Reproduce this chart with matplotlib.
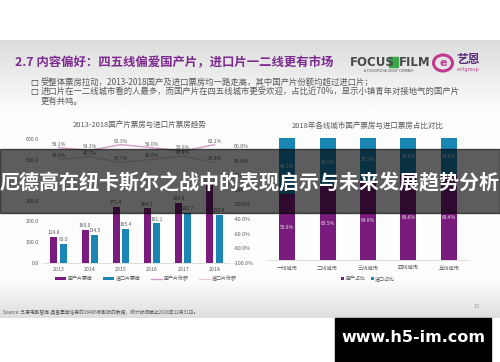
import numpy as np
import matplotlib
matplotlib.use('Agg')
import matplotlib.pyplot as plt
from matplotlib.patches import Rectangle, Ellipse

plt.rcParams['font.family'] = ['Noto Sans CJK SC', 'DejaVu Sans']

# data
years = ['2013', '2014', '2015', '2016', '2017', '2018']
box_cn = [124.8, 160.0, 271.4, 264.1, 289.9, 378.9]
box_im = [90.0, 134.5, 165.4, 191.1, 242.7, 230.8]
share_cn = [58.1, 54.3, 62.3, 58.0, 53.6, 62.2]
share_im = [41.9, 45.7, 37.7, 42.0, 46.4, 37.8]

cities = ['一线城市', '二线城市', '三线城市', '四线城市', '五线城市']
city_cn = [53.8, 60.5, 64.8, 69.6, 69.4]
city_im = [46.2, 39.5, 35.2, 30.4, 30.6]

PURPLE = '#7a1c7d'
BLUE = '#1a86b4'
PINK = '#d49cc4'
PINK2 = '#e6c6dc'
GREY = '#595959'

W, H = 500, 362
fig = plt.figure(figsize=(W / 100, H / 100), dpi=100)


def box(x0, y0, x1, y1):
    return [x0 / W, 1 - y1 / H, (x1 - x0) / W, (y1 - y0) / H]


def fxy(x, y):
    return x / W, 1 - y / H


# slide background
bg = fig.add_axes([0, 0, 1, 1], zorder=-5)
rows = np.arange(H)
shade = np.interp(rows, [0, 39, 40, 110, 280, 317, 318, H],
                  [1.0, 1.0, 0.86, 0.99, 0.99, 0.87, 1.0, 1.0])
img = np.repeat(shade[:, None], 2, axis=1)
bg.imshow(img, cmap='gray', vmin=0, vmax=1, aspect='auto',
          extent=[0, 1, 0, 1], interpolation='bilinear')
bg.axis('off')

# header
fig.text(*fxy(15, 63), '2.7 内容偏好：四五线偏爱国产片，进口片一二线更有市场',
         fontsize=8.9, fontweight='bold', color='#7d2a90', va='center')
bullets = [('受整体票房拉动，2013-2018国产及进口票房均一路走高，其中国产片份额均超过进口片；', 82, True),
           ('进口片在一二线城市看的人最多，而国产片在四五线城市更受欢迎，占比近70%，显示小镇青年对接地气的国产片', 91.5, True),
           ('更有共鸣。', 101, False)]
for txt, yy, mark in bullets:
    if mark:
        fig.text(*fxy(30, yy), '□', fontsize=6, fontweight='bold',
                 color='#333333', va='center', family='DejaVu Sans')
    fig.text(*fxy(41, yy), txt, fontsize=6.0, color=GREY, va='center')

# logos
fig.text(*fxy(350, 62), 'FOCUS', fontsize=8.5, fontweight='bold', color='#4a4a4a',
         va='center', family='DejaVu Sans')
fig.patches.append(Rectangle(fxy(389, 67), 9 / W, 10 / H, transform=fig.transFigure,
                             color='#3aa64a'))
fig.text(*fxy(399, 62), 'FILM', fontsize=8.5, fontweight='bold', color='#4a4a4a',
         va='center', family='DejaVu Sans')
fig.text(*fxy(389, 70.5), 'A FOCUSMEDIA GROUP COMPANY', fontsize=2.2, color='#555555',
         ha='center', va='center', family='DejaVu Sans')
fig.patches.append(Ellipse(fxy(443, 63), 19 / W, 16 / H, transform=fig.transFigure,
                           facecolor='none', edgecolor='#c0398f', lw=2.2))
fig.text(*fxy(443, 63), 'e', fontsize=8, fontweight='bold', color='#c0398f',
         ha='center', va='center', family='DejaVu Sans')
fig.text(*fxy(468, 60), '艺恩', fontsize=8.5, fontweight='bold', color='#5b2d7a',
         ha='center', va='center')
fig.text(*fxy(468, 70), 'entgroup', fontsize=3.6, color='#c0398f',
         ha='center', va='center', family='DejaVu Sans')

# left chart
fig.text(*fxy(140, 126), '2013-2018国产片票房与进口片票房趋势', fontsize=5.4,
         color=GREY, ha='center', va='center')
ax = fig.add_axes(box(43, 139, 230, 262.7))
ax.patch.set_alpha(0)
x = np.arange(len(years))
b1 = ax.bar(x - 0.15, box_cn, 0.22, color=PURPLE, label='国产片票房')
b2 = ax.bar(x + 0.15, box_im, 0.22, color=BLUE, label='进口片票房')
for xi, v in zip(x, box_cn):
    ax.text(xi - 0.15, v + 8, f'{v:.1f}', fontsize=3.5, color=GREY, ha='center', va='bottom')
for xi, v in zip(x, box_im):
    ax.text(xi + 0.15, v + 8, f'{v:.1f}', fontsize=3.5, color=GREY, ha='center', va='bottom')
ax.set_ylim(0, 600)
ax.set_xlim(-0.5, 5.5)
ax.set_yticks(np.arange(0, 601, 100))
ax.set_yticklabels([f'{v:.1f}' for v in np.arange(0, 601, 100)])
ax.set_xticks(x)
ax.set_xticklabels(years)
ax.tick_params(length=0, labelsize=3.8, labelcolor=GREY, pad=3)
for s in ['top', 'right', 'left']:
    ax.spines[s].set_visible(False)
ax.spines['bottom'].set_color('#d9d9d9')
ax.spines['bottom'].set_linewidth(0.6)

ax2 = ax.twinx()
ax2.set_ylim(-100, 70)
l1, = ax2.plot(x, share_cn, color=PINK, lw=1.0, label='国产片份额')
l2, = ax2.plot(x, share_im, color=PINK2, lw=0.8, label='进口片份额')
for xi, v in zip(x, share_cn):
    ax2.text(xi, v + 1.5, f'{v:.1f}%', fontsize=3.5, color=GREY, ha='center', va='bottom')
for xi, v in zip(x, share_im):
    ax2.text(xi, v + 1.5, f'{v:.1f}%', fontsize=3.5, color=GREY, ha='center', va='bottom')
rt = np.arange(-100, 61, 20)
ax2.set_yticks(rt)
ax2.set_yticklabels([f'{v:.1f}%' for v in rt])
ax2.tick_params(length=0, labelsize=3.8, labelcolor=GREY, pad=3)
for s in ax2.spines.values():
    s.set_visible(False)
ax.legend(handles=[b1, b2, l1, l2], loc='center', bbox_to_anchor=(0.55, -0.13), ncol=4,
          frameon=False, fontsize=3.6, handlelength=2.2, handleheight=0.5,
          columnspacing=2.0, handletextpad=0.4, labelcolor=GREY)

# right chart
fig.text(*fxy(368, 126), '2018年各线城市国产票房与进口票房占比对比', fontsize=5.4,
         color=GREY, ha='center', va='center')
bx = fig.add_axes(box(267, 138, 469, 260))
bx.patch.set_alpha(0)
c = np.arange(len(cities))
r1 = bx.bar(c, city_cn, 0.4, color=PURPLE, label='国产占比')
r2 = bx.bar(c, city_im, 0.4, bottom=city_cn, color=BLUE, label='进口占比')
for ci, a, b in zip(c, city_cn, city_im):
    bx.text(ci, a / 2, f'{a:.1f}%', fontsize=3.5, color='#e8e8e8', ha='center', va='center')
    bx.text(ci, a + b / 2, f'{b:.1f}%', fontsize=3.5, color='#e8e8e8', ha='center', va='center')
bx.set_ylim(0, 100)
bx.set_xlim(-0.5, 4.5)
bx.set_yticks([])
bx.set_xticks(c)
bx.set_xticklabels(cities)
bx.tick_params(length=0, labelsize=3.8, labelcolor=GREY, pad=4)
for s in ['top', 'right', 'left']:
    bx.spines[s].set_visible(False)
bx.spines['bottom'].set_color('#d9d9d9')
bx.spines['bottom'].set_linewidth(0.6)
bx.legend(handles=[r1, r2], loc='center', bbox_to_anchor=(0.5, -0.155), ncol=2,
          frameon=False, fontsize=3.6, handlelength=0.6, handleheight=0.6,
          columnspacing=1.0, handletextpad=0.3, labelcolor=GREY)

# footer
fig.text(*fxy(3, 313), 'Source: 艺恩电影智库-具备票房信息的16406家影院的数据，统计时间截止2018年12月31日。',
         fontsize=3.4, color='#555555', va='center')
fig.text(*fxy(477, 307), '15', fontsize=4, color='#999999', ha='center', va='center')

# overlay banner
fig.patches.append(Rectangle((0, 1 - 213 / H), 1, 64 / H, transform=fig.transFigure,
                             color='black', alpha=0.63, zorder=5))
fig.text(0.5, 1 - 183 / H, '厄德高在纽卡斯尔之战中的表现启示与未来发展趋势分析',
         fontsize=14.4, fontweight='bold', color='white', ha='center', va='center', zorder=6)

# watermark
fig.patches.append(Rectangle((335 / W, 0), 156 / W, 44 / H, transform=fig.transFigure,
                             color='black', zorder=5))
fig.text(413 / W, 1 - 337 / H, 'www.h5-im.com', fontsize=11.5, fontweight='bold',
         color='white', ha='center', va='center', family='DejaVu Sans', zorder=6)

fig.savefig('out.png', dpi=100)
